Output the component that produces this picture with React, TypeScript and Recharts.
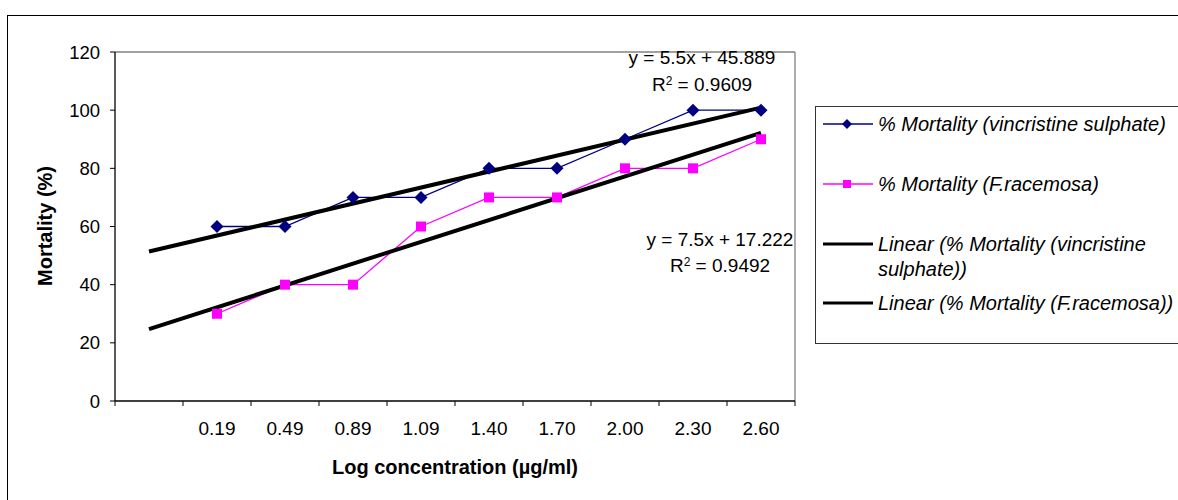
import React from 'react';
import { LineChart, Line, XAxis, YAxis, ReferenceLine, Legend } from 'recharts';

const categories = ['', '0.19', '0.49', '0.89', '1.09', '1.40', '1.70', '2.00', '2.30', '2.60'];
const vincristine = [null, 60, 60, 70, 70, 80, 80, 90, 100, 100];
const racemosa = [null, 30, 40, 40, 60, 70, 70, 80, 80, 90];
// Excel linear trendline endpoints (y = 5.5x + 45.889 and y = 7.5x + 17.222 at x = 1 and x = 10)
const trendVincristine = [51.389, null, null, null, null, null, null, null, null, 100.889];
const trendRacemosa = [24.722, null, null, null, null, null, null, null, null, 92.222];
const yTicks = [0, 20, 40, 60, 80, 100, 120];
const xBoundaryTicks = [0.5, 1.5, 2.5, 3.5, 4.5, 5.5, 6.5, 7.5, 8.5, 9.5, 10.5];

const data = categories.map((c, i) => ({
  x: i + 1,
  cat: c,
  vin: vincristine[i],
  rac: racemosa[i],
  tv: trendVincristine[i],
  tr: trendRacemosa[i],
}));

const FONT = '"Liberation Sans", Arial, sans-serif';
const W = 1178;
const H = 500;
const PLOT_LEFT = 115;
const PLOT_RIGHT = 795;
const HALF_BAND = (PLOT_RIGHT - PLOT_LEFT) / categories.length / 2;

const XTick = (props: any) => {
  const { x, y, payload } = props;
  const idx = Math.round(payload.value - 0.5);
  const label = categories[idx];
  if (!label) return <g />;
  return (
    <text x={x + HALF_BAND} y={y} dy="0.71em" textAnchor="middle" fill="#000" fontSize={19} fontFamily={FONT}>
      {label}
    </text>
  );
};

const Diamond = (props: any) => {
  const { cx, cy, index } = props;
  if (cy == null || isNaN(cy)) return <g key={`d${index}`} />;
  const r = 6.5;
  return (
    <path key={`d${index}`} d={`M${cx},${cy - r}L${cx + r},${cy}L${cx},${cy + r}L${cx - r},${cy}Z`} fill="#000080" />
  );
};

const Square = (props: any) => {
  const { cx, cy, index } = props;
  if (cy == null || isNaN(cy)) return <g key={`s${index}`} />;
  const s = 5;
  return <rect key={`s${index}`} x={cx - s} y={cy - s} width={2 * s} height={2 * s} fill="#FF00FF" />;
};

const legendItems = [
  { type: 'diamond', lines: ['% Mortality (vincristine sulphate)'], top: 17 },
  { type: 'square', lines: ['% Mortality (F.racemosa)'], top: 77 },
  { type: 'linear', lines: ['Linear (% Mortality (vincristine', 'sulphate))'], top: 137 },
  { type: 'linear', lines: ['Linear (% Mortality (F.racemosa))'], top: 196 },
];

const LegendBox = () => (
  <div
    style={{
      position: 'relative',
      width: 420,
      height: 238,
      border: '1px solid #333',
      boxSizing: 'border-box',
      background: '#fff',
      fontFamily: FONT,
      fontStyle: 'italic',
      fontSize: 20,
      color: '#000',
      textAlign: 'left',
    }}
  >
    {legendItems.map((it, i) => (
      <div key={i}>
        <svg
          width={52}
          height={20}
          style={{ position: 'absolute', left: 6, top: it.top - 10 }}
        >
          {it.type === 'diamond' && (
            <g>
              <line x1={1} y1={10} x2={51} y2={10} stroke="#000080" strokeWidth={1.3} />
              <path d="M25,5L30,10L25,15L20,10Z" fill="#000080" />
            </g>
          )}
          {it.type === 'square' && (
            <g>
              <line x1={1} y1={10} x2={51} y2={10} stroke="#FF00FF" strokeWidth={1.5} />
              <rect x={21} y={6} width={8} height={8} fill="#FF00FF" />
            </g>
          )}
          {it.type === 'linear' && <line x1={1} y1={10} x2={51} y2={10} stroke="#000" strokeWidth={3} />}
        </svg>
        {it.lines.map((ln, j) => (
          <div
            key={j}
            style={{
              position: 'absolute',
              left: 62,
              top: it.top - 12 + j * 25,
              lineHeight: '24px',
              whiteSpace: 'nowrap',
            }}
          >
            {ln}
          </div>
        ))}
      </div>
    ))}
  </div>
);

const textStyle: React.CSSProperties = {
  position: 'absolute',
  fontFamily: FONT,
  fontSize: 19,
  lineHeight: '22px',
  color: '#000',
  textAlign: 'center',
  whiteSpace: 'nowrap',
  width: 220,
};

export default function App() {
  return (
    <div
      style={{
        position: 'absolute',
        left: 0,
        top: 0,
        width: W,
        height: H,
        overflow: 'hidden',
        background: '#fff',
        fontFamily: FONT,
      }}
    >
      <div
        style={{
          position: 'absolute',
          left: 7,
          top: 15,
          width: 1300,
          height: 700,
          border: '1px solid #000',
        }}
      />
      <div style={{ position: 'absolute', left: 0, top: 0 }}>
        <LineChart width={W} height={H} data={data} margin={{ top: 52, right: W - PLOT_RIGHT, bottom: 59, left: 55 }}>
          <XAxis
            dataKey="x"
            type="number"
            domain={[0.5, 10.5]}
            ticks={xBoundaryTicks}
            interval={0}
            height={40}
            tick={<XTick />}
            tickSize={5}
            tickMargin={16}
            axisLine={{ stroke: '#000', strokeWidth: 1.3 }}
            tickLine={{ stroke: '#000' }}
          />
          <YAxis
            type="number"
            domain={[0, 120]}
            ticks={yTicks}
            interval={0}
            width={60}
            tickSize={5}
            tickMargin={10}
            tick={{ fill: '#000', fontSize: 18.5, fontFamily: FONT }}
            axisLine={{ stroke: '#000', strokeWidth: 1.3 }}
            tickLine={{ stroke: '#000' }}
          />
          <ReferenceLine y={120} stroke="#808080" strokeWidth={1.3} />
          <ReferenceLine x={10.5} stroke="#808080" strokeWidth={1.3} />
          <Line
            dataKey="vin"
            stroke="#000080"
            strokeWidth={1.3}
            dot={(p: any) => <Diamond {...p} key={`dv${p.index}`} />}
            isAnimationActive={false}
          />
          <Line
            dataKey="rac"
            stroke="#FF00FF"
            strokeWidth={1.3}
            dot={(p: any) => <Square {...p} key={`sr${p.index}`} />}
            isAnimationActive={false}
          />
          <Line dataKey="tv" stroke="#000" strokeWidth={4} dot={false} connectNulls isAnimationActive={false} />
          <Line dataKey="tr" stroke="#000" strokeWidth={4} dot={false} connectNulls isAnimationActive={false} />
          <Legend
            layout="horizontal"
            align="center"
            verticalAlign="middle"
            content={() => <LegendBox />}
            wrapperStyle={{ left: 815, top: 106, width: 420, height: 238 }}
          />
        </LineChart>
      </div>

      <div style={{ ...textStyle, left: 702 - 110, top: 58 - 11 }}>y = 5.5x + 45.889</div>
      <div style={{ ...textStyle, left: 702 - 110, top: 85 - 11 }}>
        R<sup style={{ fontSize: 12, verticalAlign: 'top', lineHeight: '14px' }}>2</sup> = 0.9609
      </div>
      <div style={{ ...textStyle, left: 720 - 110, top: 240 - 11 }}>y = 7.5x + 17.222</div>
      <div style={{ ...textStyle, left: 720 - 110, top: 266 - 11 }}>
        R<sup style={{ fontSize: 12, verticalAlign: 'top', lineHeight: '14px' }}>2</sup> = 0.9492
      </div>

      <div
        style={{
          position: 'absolute',
          left: 455 - 200,
          top: 467 - 12,
          width: 400,
          textAlign: 'center',
          fontFamily: FONT,
          fontWeight: 'bold',
          fontSize: 20,
          lineHeight: '24px',
          color: '#000',
        }}
      >
        Log concentration (µg/ml)
      </div>
      <div
        style={{
          position: 'absolute',
          left: 45 - 100,
          top: 226 - 12,
          width: 200,
          textAlign: 'center',
          fontFamily: FONT,
          fontWeight: 'bold',
          fontSize: 20,
          lineHeight: '24px',
          color: '#000',
          transform: 'rotate(-90deg)',
        }}
      >
        Mortality (%)
      </div>
    </div>
  );
}
